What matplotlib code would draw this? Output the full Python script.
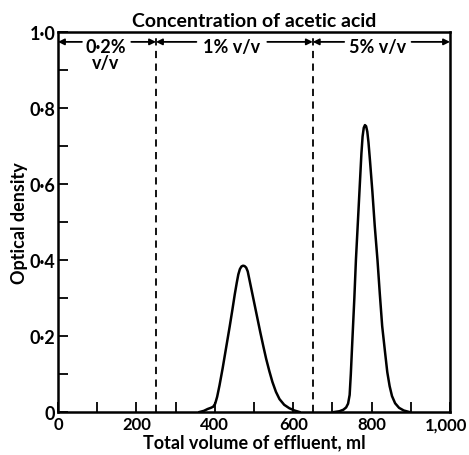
import numpy as np
import matplotlib
matplotlib.use('Agg')
import matplotlib.pyplot as plt
import matplotlib.transforms as mtransforms

plt.rcParams['font.family'] = ['Lato', 'DejaVu Sans']
plt.rcParams['font.weight'] = 'bold'

peak1_ml = [361, 372, 382, 390, 396, 401, 406, 412, 420, 429, 438, 445, 451, 456, 460, 464, 468, 472,
            476, 480, 484, 488, 493, 500, 508, 516, 524, 531, 539, 547, 556, 565, 577, 590, 603, 616]
peak1_od = [0.0, 0.003, 0.008, 0.011, 0.014, 0.022, 0.04, 0.07, 0.115, 0.17, 0.225, 0.27, 0.31, 0.34,
            0.362, 0.376, 0.383, 0.385, 0.384, 0.38, 0.37, 0.35, 0.325, 0.29, 0.25, 0.21, 0.172, 0.14,
            0.108, 0.079, 0.053, 0.034, 0.019, 0.01, 0.004, 0.0]

peak2_ml = [705, 718, 728, 735, 740, 744, 747, 751, 756, 760, 765, 770, 774, 777, 780, 783, 786, 789,
            792, 796, 802, 808, 815, 821, 827, 834, 840, 846, 852, 860, 870, 882, 896]
peak2_od = [0.0, 0.002, 0.006, 0.012, 0.022, 0.045, 0.1, 0.19, 0.30, 0.40, 0.50, 0.6, 0.68, 0.725,
            0.748, 0.755, 0.752, 0.738, 0.71, 0.66, 0.58, 0.49, 0.40, 0.31, 0.226, 0.16, 0.105, 0.068,
            0.042, 0.023, 0.011, 0.004, 0.0]

boundaries = [250, 650]
regions = [(0, 250, '0·2%\nv/v', 69, 175), (250, 650, '1% v/v', 361, 522), (650, 1000, '5% v/v', 738, 890)]

xticks = [0, 200, 400, 600, 800, 1000]
xlabels = ['0', '200', '400', '600', '800', '1,000']
yticks = [0, 0.2, 0.4, 0.6, 0.8, 1.0]
ylabels = ['0', '0·2', '0·4', '0·6', '0·8', '1·0']

fig = plt.figure(figsize=(4.69, 4.56), dpi=100)
ax = fig.add_axes([58/469, 43/456, 392/469, 380/456])

ax.plot(peak1_ml, peak1_od, color='black', lw=1.8, solid_joinstyle='round')
ax.plot(peak2_ml, peak2_od, color='black', lw=1.8, solid_joinstyle='round')

for b in boundaries:
    ax.axvline(b, color='black', lw=1.3, ls=(0, (4, 3)))

# arrows showing concentration ranges
for lo, hi, txt, tl, tr in regions:
    ya = 0.974
    ax.annotate('', xy=(lo, ya), xytext=(tl - 8, ya),
                arrowprops=dict(arrowstyle='-|>', color='black', lw=1.3, mutation_scale=9, shrinkA=0, shrinkB=0))
    ax.annotate('', xy=(hi, ya), xytext=(tr + 12, ya),
                arrowprops=dict(arrowstyle='-|>', color='black', lw=1.3, mutation_scale=9, shrinkA=0, shrinkB=0))
    ax.text((tl + tr) / 2, ya + 0.01, txt, ha='center', va='top', fontsize=13, fontweight='bold', linespacing=0.95)

ax.set_xlim(0, 1000)
ax.set_ylim(0, 1.0)
ax.set_xticks(xticks)
ax.set_xticklabels(xlabels, fontweight='bold')
ax.set_xticks(np.arange(100, 1000, 200), minor=True)
ax.set_yticks(yticks)
ax.set_yticklabels(ylabels, fontweight='bold')
ax.set_yticks(np.arange(0.1, 1.0, 0.2), minor=True)
ax.tick_params(which='both', direction='in', length=7, width=1.3, labelsize=12, pad=3)
ax.tick_params(axis='y', pad=2, labelsize=13)
last = ax.get_xticklabels()[-1]
last.set_transform(last.get_transform() + mtransforms.ScaledTranslation(-4/100, 0, fig.dpi_scale_trans))
for s in ax.spines.values():
    s.set_linewidth(1.8)

ax.set_xlabel('Total volume of effluent, ml', fontsize=13, fontweight='bold', labelpad=1)
ax.set_ylabel('Optical density', fontsize=13, fontweight='bold', labelpad=1)
ax.set_title('Concentration of acetic acid', fontsize=14, fontweight='bold', pad=4)

fig.savefig('out.png', dpi=100)
